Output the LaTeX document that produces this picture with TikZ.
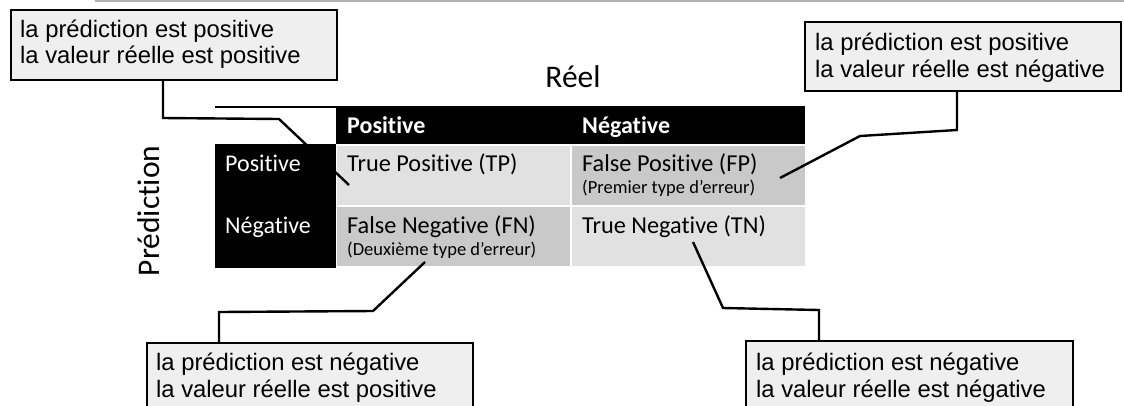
\documentclass[tikz,border=0pt]{standalone}
\usepackage{fontspec}
\setmainfont{Liberation Sans}
\newfontfamily\tabfont[Ligatures=NoCommon]{Carlito}
\definecolor{boxgray}{HTML}{EFEFEF}
\definecolor{lightc}{HTML}{E1E1E1}
\definecolor{darkc}{HTML}{C9C9C9}
\begin{document}
\begin{tikzpicture}[x=1pt,y=-1pt,
  callbox/.style={draw=black,line width=2pt,fill=boxgray,inner sep=0pt,anchor=north west},
  calltext/.style={anchor=base west,inner sep=0pt,font=\fontsize{23.8}{26}\selectfont},
  leader/.style={draw=black,line width=2.4pt,line join=miter},
  cell/.style={inner sep=0pt,anchor=north west},
  celltext/.style={anchor=base west,inner sep=0pt,font=\tabfont\fontsize{24.3}{28}\selectfont},
  subtext/.style={anchor=base west,inner sep=0pt,font=\tabfont\fontsize{18.5}{22}\selectfont},
  headtext/.style={anchor=base west,inner sep=0pt,text=white,font=\tabfont\bfseries\fontsize{24}{28}\selectfont},
  labtext/.style={anchor=base west,inner sep=0pt,text=white,font=\tabfont\fontsize{24}{28}\selectfont},
  ]
\clip (0,0) rectangle (1124,405);
\fill[white] (0,0) rectangle (1124,405);
% torn top edge
\fill[gray!60] (95,0) rectangle (1124,2);

% titles
\node[anchor=base,inner sep=0pt,font=\tabfont\fontsize{31.5}{34}\selectfont] (reel) at (573,87) {Réel};
\node[rotate=90,inner sep=0pt,font=\tabfont\fontsize{31.5}{34}\selectfont] (pred) at (149,211) {Prédiction};

% table
\coordinate (cornerl) at (215,107);
\coordinate (cornerr) at (336,107);
\draw[line width=2pt] (cornerl) -- (cornerr);
\node[cell,fill=black,minimum width=469pt,minimum height=38pt] (head) at (336,106) {};
\node[cell,fill=black,minimum width=121pt,minimum height=124pt] (rowlab) at (215,144) {};
\node[cell,fill=lightc,minimum width=233pt,minimum height=59pt] (tp) at (337,146) {};
\node[cell,fill=darkc,minimum width=233pt,minimum height=59pt] (fp) at (572,146) {};
\node[cell,fill=darkc,minimum width=233pt,minimum height=59pt] (fn) at (337,207) {};
\node[cell,fill=lightc,minimum width=233pt,minimum height=59pt] (tn) at (572,207) {};

\node[headtext] (hpos) at (347,133) {Positive};
\node[headtext] (hneg) at (582,133) {Négative};
\node[labtext] (rpos) at (225,171) {Positive};
\node[labtext] (rneg) at (225,233) {Négative};
\node[celltext] (tptext) at (347,171) {True Positive (TP)};
\node[celltext] (fptext) at (582,171) {False Positive (FP)};
\node[subtext] (fpsub) at (582,193) {(Premier type d’erreur)};
\node[celltext] (fntext) at (347,233) {False Negative (FN)};
\node[subtext] (fnsub) at (347,255) {(Deuxième type d’erreur)};
\node[celltext] (tntext) at (582,233) {True Negative (TN)};

% callout boxes
\node[callbox,minimum width=326pt,minimum height=70pt] (b1) at (10,9) {};
\node[calltext] (b1a) at (20,37) {la prédiction est positive};
\node[calltext] (b1b) at (20,63) {la valeur réelle est positive};

\node[callbox,minimum width=316pt,minimum height=69pt] (b2) at (804,21) {};
\node[calltext] (b2a) at (815,50) {la prédiction est positive};
\node[calltext] (b2b) at (815,77) {la valeur réelle est négative};

\node[callbox,minimum width=326pt,minimum height=90pt] (b3) at (146,342) {};
\node[calltext] (b3a) at (156,370) {la prédiction est négative};
\node[calltext] (b3b) at (156,397) {la valeur réelle est positive};

\node[callbox,minimum width=327pt,minimum height=90pt] (b4) at (745,340) {};
\node[calltext] (b4a) at (756,370) {la prédiction est négative};
\node[calltext] (b4b) at (756,397) {la valeur réelle est négative};

% leaders
\coordinate (l1a) at (163,118);
\coordinate (l1b) at (279,119);
\coordinate (l1e) at (349,185);
\draw[leader] (b1.south -| l1a) -- (l1a) -- (l1b) -- (l1e);

\coordinate (l2a) at (957,130);
\coordinate (l2b) at (860,136);
\coordinate (l2e) at (780,178);
\draw[leader] (b2.south -| l2a) -- (l2a) -- (l2b) -- (l2e);

\coordinate (l3a) at (219,312);
\coordinate (l3b) at (373,311);
\coordinate (l3e) at (425,262);
\draw[leader] (b3.north -| l3a) -- (l3a) -- (l3b) -- (l3e);

\coordinate (l4a) at (819,310);
\coordinate (l4b) at (723,308);
\coordinate (l4e) at (693,242);
\draw[leader] (b4.north -| l4a) -- (l4a) -- (l4b) -- (l4e);
\end{tikzpicture}
\end{document}
